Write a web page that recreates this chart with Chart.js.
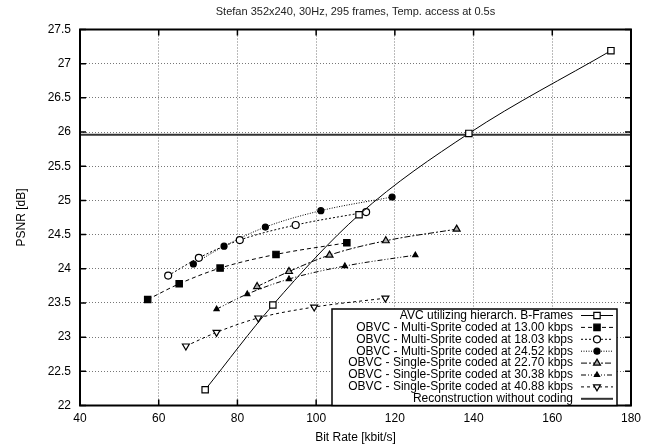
<!DOCTYPE html>
<html>
<head>
<meta charset="utf-8">
<script src="https://cdn.jsdelivr.net/npm/chart.js@4.4.1/dist/chart.umd.min.js"></script>
<style>
  html, body { margin: 0; padding: 0; background: #fff; }
</style>
</head>
<body>
<canvas id="psnrChart" width="652" height="446"></canvas>
<script>
// values
const avcRate  = [71.8, 89.0, 110.9, 138.8, 174.9];
const avcPsnr  = [22.23, 23.47, 24.79, 25.98, 27.19];

const ms13Rate = [57.2, 65.2, 75.6, 89.8, 107.8];
const ms13Psnr = [23.55, 23.78, 24.01, 24.21, 24.38];

const ms18Rate = [62.4, 70.2, 80.6, 94.8, 112.7];
const ms18Psnr = [23.90, 24.16, 24.42, 24.64, 24.83];

const ms24Rate = [68.8, 76.6, 87.1, 101.2, 119.3];
const ms24Psnr = [24.07, 24.33, 24.61, 24.85, 25.05];

const ss22Rate = [85.0, 93.1, 103.4, 117.7, 135.7];
const ss22Psnr = [23.74, 23.96, 24.20, 24.41, 24.58];

const ss30Rate = [74.7, 82.5, 93.1, 107.3, 125.2];
const ss30Psnr = [23.41, 23.63, 23.85, 24.04, 24.20];

const ss40Rate = [66.9, 74.7, 85.3, 99.5, 117.6];
const ss40Psnr = [22.87, 23.07, 23.28, 23.44, 23.57];

const reconRate = [40, 180];
const reconPsnr = [25.96, 25.96];

const xTicks = [40, 60, 80, 100, 120, 140, 160, 180];
const yTicks = [22, 22.5, 23, 23.5, 24, 24.5, 25, 25.5, 26, 26.5, 27, 27.5];

const FONT = "'Liberation Sans', Arial, sans-serif";

function pts(xs, ys) {
    return xs.map(function(x, i) { return { x: x, y: ys[i] }; });
}

// gnuplot style frame: border on all sides + inward tick marks
const framePlugin = {
    id: 'frame',
    afterDatasetsDraw(chart) {
        const ctx = chart.ctx, a = chart.chartArea;
        const xs = chart.scales.x, ys = chart.scales.y;
        ctx.save();
        ctx.strokeStyle = '#000';
        ctx.lineWidth = 1.5;
        ctx.beginPath();
        xTicks.forEach(function(v) {
            const px = xs.getPixelForValue(v);
            ctx.moveTo(px, a.bottom); ctx.lineTo(px, a.bottom - 6);
            ctx.moveTo(px, a.top); ctx.lineTo(px, a.top + 6);
        });
        yTicks.forEach(function(v) {
            const py = ys.getPixelForValue(v);
            ctx.moveTo(a.left, py); ctx.lineTo(a.left + 6, py);
            ctx.moveTo(a.right, py); ctx.lineTo(a.right - 6, py);
        });
        ctx.stroke();
        ctx.lineWidth = 2;
        ctx.strokeRect(a.left, a.top, a.right - a.left, a.bottom - a.top);

        // title
        ctx.fillStyle = '#222';
        ctx.font = '11px ' + FONT;
        ctx.textAlign = 'center';
        ctx.textBaseline = 'middle';
        ctx.fillText('Stefan 352x240, 30Hz, 295 frames, Temp. access at 0.5s', (a.left + a.right) / 2, 12);
        ctx.restore();
    }
};

// legend box in the lower right corner, text right aligned, sample on the right
const boxLegend = {
    id: 'boxLegend',
    afterDraw(chart) {
        const ctx = chart.ctx, a = chart.chartArea;
        const right = a.right - 14, left = a.left + 252, top = a.top + 279.5, bottom = a.bottom;
        ctx.save();
        ctx.fillStyle = '#fff';
        ctx.fillRect(left, top, right - left, bottom - top);
        ctx.strokeStyle = '#000';
        ctx.lineWidth = 1.5;
        ctx.strokeRect(left, top, right - left, bottom - top);

        ctx.font = '12px ' + FONT;
        ctx.textAlign = 'right';
        ctx.textBaseline = 'middle';
        chart.data.datasets.forEach(function(ds, i) {
            const y = top + 6.5 + i * 11.9;
            ctx.fillStyle = '#000';
            ctx.fillText(ds.label, right - 44, y);

            ctx.strokeStyle = ds.borderColor;
            ctx.lineWidth = ds.borderWidth;
            ctx.setLineDash(ds.borderDash || []);
            ctx.beginPath();
            ctx.moveTo(right - 36, y);
            ctx.lineTo(right - 4, y);
            ctx.stroke();
            ctx.setLineDash([]);

            if (ds.pointRadius > 0) {
                ctx.fillStyle = ds.pointBackgroundColor;
                ctx.strokeStyle = ds.borderColor;
                ctx.lineWidth = ds.pointBorderWidth;
                Chart.helpers.drawPoint(ctx, {
                    pointStyle: ds.pointStyle,
                    radius: ds.pointRadius,
                    rotation: ds.pointRotation || 0,
                    borderWidth: ds.pointBorderWidth
                }, right - 20, y);
            }
        });
        ctx.restore();
    }
};

function series(label, xs, ys, opts) {
    return Object.assign({
        label: label,
        data: pts(xs, ys),
        borderColor: '#000',
        borderWidth: 1,
        borderDash: [],
        pointStyle: 'rect',
        pointRadius: 4.5,
        pointBorderWidth: 1.2,
        pointBackgroundColor: '#fff',
        pointBorderColor: '#000',
        cubicInterpolationMode: 'monotone',
        fill: false
    }, opts);
}

const ctx = document.getElementById('psnrChart').getContext('2d');

new Chart(ctx, {
    type: 'line',
    data: {
        datasets: [
            series('AVC utilizing hierarch. B-Frames', avcRate, avcPsnr, {}),
            series('OBVC - Multi-Sprite coded at 13.00 kbps', ms13Rate, ms13Psnr, {
                borderDash: [4, 3], pointBackgroundColor: '#000'
            }),
            series('OBVC - Multi-Sprite coded at 18.03 kbps', ms18Rate, ms18Psnr, {
                borderDash: [2, 2], pointStyle: 'circle', pointRadius: 3.5
            }),
            series('OBVC - Multi-Sprite coded at 24.52 kbps', ms24Rate, ms24Psnr, {
                borderDash: [1, 1.5], pointStyle: 'circle', pointRadius: 3, pointBackgroundColor: '#000'
            }),
            series('OBVC - Single-Sprite coded at 22.70 kbps', ss22Rate, ss22Psnr, {
                borderDash: [6, 2, 2, 2], pointStyle: 'triangle', pointRadius: 4, pointBackgroundColor: '#aaa'
            }),
            series('OBVC - Single-Sprite coded at 30.38 kbps', ss30Rate, ss30Psnr, {
                borderDash: [5, 2, 1, 2, 1, 2], pointStyle: 'triangle', pointRadius: 3, pointBackgroundColor: '#000'
            }),
            series('OBVC - Single-Sprite coded at 40.88 kbps', ss40Rate, ss40Psnr, {
                borderDash: [3, 3], pointStyle: 'triangle', pointRotation: 180, pointRadius: 4
            }),
            series('Reconstruction without coding', reconRate, reconPsnr, {
                borderColor: '#333', borderWidth: 2, pointRadius: 0, cubicInterpolationMode: 'default'
            })
        ]
    },
    options: {
        responsive: false,
        animation: false,
        layout: { padding: { top: 29.5, right: 21, left: 0, bottom: 0 } },
        plugins: {
            legend: { display: false },
            title: { display: false },
            tooltip: { enabled: false }
        },
        scales: {
            x: {
                type: 'linear',
                min: 40,
                max: 180,
                afterFit: function(scale) { scale.height = 40.5; },
                afterBuildTicks: function(scale) {
                    scale.ticks = xTicks.map(function(v) { return { value: v }; });
                },
                grid: { color: '#777', drawTicks: false, lineWidth: 1 },
                border: { display: false, dash: [1, 2] },
                ticks: {
                    color: '#000', padding: 6,
                    font: { family: FONT, size: 12 }
                },
                title: {
                    display: true, text: 'Bit Rate [kbit/s]', color: '#000',
                    padding: { top: 0, bottom: 1 },
                    font: { family: FONT, size: 12 }
                }
            },
            y: {
                type: 'linear',
                min: 22,
                max: 27.5,
                afterFit: function(scale) { scale.width = 80; },
                afterBuildTicks: function(scale) {
                    scale.ticks = yTicks.map(function(v) { return { value: v }; });
                },
                grid: { color: '#777', drawTicks: false, lineWidth: 1 },
                border: { display: false, dash: [1, 2] },
                ticks: {
                    color: '#000', padding: 9,
                    font: { family: FONT, size: 12 },
                    callback: function(v) { return String(v); }
                },
                title: {
                    display: true, text: 'PSNR [dB]', color: '#000',
                    padding: { top: 14, bottom: 0 },
                    font: { family: FONT, size: 12 }
                }
            }
        }
    },
    plugins: [framePlugin, boxLegend]
});
</script>
</body>
</html>
